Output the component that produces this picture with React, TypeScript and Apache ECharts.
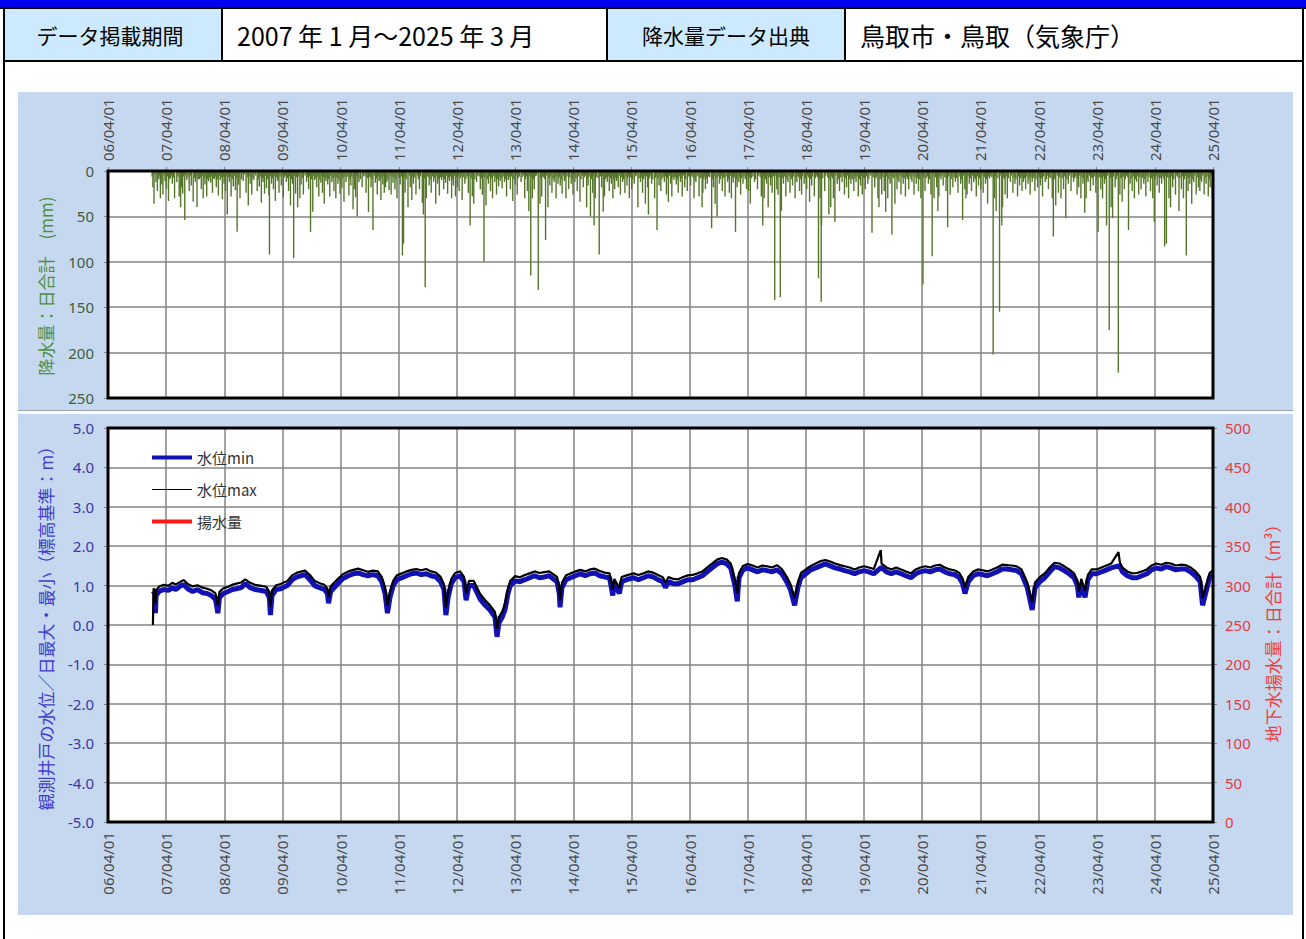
import React, { useEffect, useRef } from 'react';
import * as echarts from 'echarts';

// ---------- tick labels ----------
const xTickLabels = [
  '06/04/01', '07/04/01', '08/04/01', '09/04/01', '10/04/01', '11/04/01', '12/04/01',
  '13/04/01', '14/04/01', '15/04/01', '16/04/01', '17/04/01', '18/04/01', '19/04/01',
  '20/04/01', '21/04/01', '22/04/01', '23/04/01', '24/04/01', '25/04/01',
];

// ---------- daily precipitation (mm) : [month, day, mm] ----------
const rain2007 = [[1,8,18],[1,15,36],[1,27,12],[2,5,22],[2,14,9],[2,24,30],[3,5,15],[3,12,26],[3,25,11],[4,3,20],[4,16,33],[4,28,8],[5,10,14],[5,24,30],[6,7,12],[6,22,28],[7,1,40],[7,6,18],[7,14,25],[7,27,54],[8,9,10],[8,24,22],[9,6,16],[9,18,34],[10,2,12],[10,12,40],[10,27,9],[11,8,20],[11,20,30],[12,1,15],[12,12,28],[12,24,11],
  [1,3,6],[1,21,4],[2,9,7],[2,19,5],[3,1,8],[3,19,5],[4,9,6],[4,22,9],[5,4,5],[5,17,7],[6,14,6],[6,30,9],[7,10,8],[7,20,6],[8,2,4],[8,17,7],[9,1,5],[9,26,8],[10,7,6],[10,20,9],[11,2,7],[11,14,5],[11,26,8],[12,6,6],[12,18,9],[12,29,7]];
const rain2008 = [[1,6,13],[1,17,24],[1,30,9],[2,10,18],[2,23,27],[3,6,10],[3,19,31],[3,30,14],[4,8,22],[4,19,48],[5,2,12],[5,13,28],[5,27,17],[6,9,21],[6,20,67],[6,29,15],[7,8,30],[7,28,11],[8,15,24],[8,29,38],[9,10,14],[9,20,26],[10,3,10],[10,24,22],[11,6,17],[11,19,35],[11,30,12],[12,9,25],[12,21,19],
  [1,2,7],[1,12,5],[1,24,8],[2,4,6],[2,16,9],[3,1,5],[3,13,7],[3,25,6],[4,2,8],[4,13,5],[4,26,7],[5,8,6],[5,20,9],[6,2,5],[6,14,8],[7,2,6],[7,18,9],[8,5,4],[8,22,7],[9,3,6],[9,27,8],[10,14,5],[10,30,9],[11,12,6],[11,25,8],[12,3,7],[12,15,5],[12,28,9]];
const rain2009 = [[1,5,27],[1,9,92],[1,22,14],[2,3,20],[2,15,33],[2,28,11],[3,10,24],[3,24,16],[4,6,29],[4,25,12],[5,9,22],[5,21,38],[6,3,14],[6,10,96],[6,22,25],[7,5,40],[7,19,30],[7,27,15],[8,10,26],[8,30,12],[9,12,20],[9,24,67],[10,8,45],[10,20,10],[11,2,18],[11,15,28],[11,28,13],[12,8,24],[12,19,36],[12,30,11],
  [1,14,6],[1,28,8],[2,9,5],[2,21,7],[3,4,9],[3,16,6],[3,30,5],[4,13,7],[4,19,5],[5,2,8],[5,15,6],[5,28,9],[6,17,5],[6,29,7],[7,12,6],[8,3,8],[8,20,5],[9,4,7],[9,17,6],[10,1,9],[10,14,5],[10,27,8],[11,8,6],[11,21,9],[12,2,5],[12,14,7],[12,24,8]];
const rain2010 = [[1,10,15],[1,23,28],[2,5,12],[2,18,22],[3,2,30],[3,15,14],[3,28,25],[4,9,19],[4,22,34],[5,5,12],[5,23,27],[6,4,16],[6,18,42],[6,28,20],[7,4,29],[7,14,50],[7,25,12],[8,14,18],[9,8,24],[9,23,45],[10,9,18],[10,21,65],[11,5,13],[11,17,26],[11,29,11],[12,10,32],[12,22,15],[12,31,24],
  [1,4,7],[1,16,9],[1,29,5],[2,11,8],[2,24,6],[3,8,7],[3,21,9],[4,3,5],[4,15,8],[4,28,6],[5,11,7],[5,17,5],[5,29,9],[6,10,6],[6,23,8],[7,8,5],[7,19,7],[8,3,9],[8,24,6],[9,2,5],[9,15,8],[9,29,6],[10,3,7],[10,15,9],[10,28,5],[11,11,8],[11,23,6],[12,4,9],[12,16,7],[12,27,5]];
const rain2011 = [[1,8,18],[1,16,12],[1,30,21],[2,12,26],[2,24,13],[3,8,20],[3,21,30],[4,10,15],[4,24,93],[5,1,80],[5,11,24],[5,29,40],[6,12,18],[6,22,32],[7,2,14],[7,18,26],[8,9,20],[8,27,35],[9,3,48],[9,14,128],[9,21,30],[10,9,16],[10,22,24],[11,6,12],[11,19,36],[12,1,14],[12,12,27],[12,26,10],
  [1,3,8],[1,11,6],[1,24,9],[2,5,5],[2,18,7],[3,2,6],[3,14,9],[3,28,5],[4,4,8],[4,17,6],[5,5,7],[5,18,9],[6,5,5],[6,17,8],[6,29,6],[7,10,7],[7,26,5],[8,2,9],[8,16,6],[9,9,8],[9,28,5],[10,3,7],[10,15,9],[10,29,6],[11,12,8],[11,26,5],[12,6,9],[12,19,7],[12,31,6]];
const rain2012 = [[1,8,20],[1,20,13],[2,2,25],[2,14,11],[2,27,30],[3,9,16],[3,22,28],[4,3,18],[4,14,22],[5,3,32],[5,20,14],[6,11,24],[6,22,60],[7,6,28],[7,15,36],[8,2,12],[8,25,20],[9,7,26],[9,17,100],[9,30,38],[10,15,14],[10,28,22],[11,10,30],[11,24,12],[12,5,26],[12,18,17],[12,28,11],
  [1,3,7],[1,14,9],[1,27,5],[2,8,8],[2,20,6],[3,3,9],[3,15,5],[3,28,7],[4,9,6],[4,21,8],[4,28,5],[5,10,7],[5,27,9],[6,4,6],[6,17,5],[6,29,8],[7,10,7],[7,22,9],[8,9,5],[8,18,6],[9,1,8],[9,12,5],[9,23,7],[10,7,9],[10,21,6],[11,3,8],[11,17,5],[11,30,7],[12,11,9],[12,23,6]];
const rain2013 = [[1,9,19],[1,24,12],[2,6,28],[2,17,10],[3,2,20],[3,17,33],[4,2,15],[4,14,26],[5,8,12],[5,31,30],[6,17,22],[6,26,44],[7,8,115],[7,18,30],[7,30,20],[8,24,131],[9,4,36],[9,15,28],[10,9,76],[10,24,40],[11,5,16],[11,18,24],[12,2,12],[12,14,30],[12,26,14],
  [1,3,8],[1,16,6],[1,30,9],[2,11,5],[2,23,7],[3,8,6],[3,24,9],[4,8,5],[4,20,8],[4,27,6],[5,15,7],[5,22,5],[6,4,9],[6,11,6],[6,21,8],[7,3,5],[7,13,7],[7,24,9],[8,6,6],[8,14,5],[9,9,8],[9,21,6],[9,28,7],[10,3,9],[10,16,5],[10,30,8],[11,11,6],[11,25,9],[12,8,7],[12,20,5],[12,30,8]];
const rain2014 = [[1,9,16],[1,21,25],[2,4,11],[2,14,30],[3,3,20],[3,19,14],[3,30,26],[4,11,12],[4,26,22],[5,13,34],[6,3,18],[6,24,40],[7,3,16],[7,18,50],[8,1,24],[8,10,60],[8,17,30],[9,11,92],[9,26,18],[10,6,45],[10,14,28],[11,1,12],[11,13,22],[11,26,14],[12,6,30],[12,17,20],[12,28,11],
  [1,3,6],[1,15,9],[1,28,5],[2,9,8],[2,21,6],[3,9,7],[3,25,9],[4,5,5],[4,18,8],[5,3,6],[5,20,9],[5,28,5],[6,10,7],[6,17,5],[6,29,8],[7,9,6],[7,25,9],[8,5,5],[8,24,7],[9,4,8],[9,18,6],[10,1,5],[10,20,9],[10,27,7],[11,7,6],[11,20,8],[12,1,5],[12,11,9],[12,22,7]];
const rain2015 = [[1,8,18],[1,22,26],[2,5,12],[2,19,24],[3,4,16],[3,19,30],[4,3,20],[4,19,14],[5,12,40],[5,28,12],[6,10,24],[6,28,36],[7,12,18],[7,17,48],[8,6,14],[8,25,30],[9,9,65],[9,22,16],[10,3,22],[10,25,12],[11,7,26],[11,19,34],[12,3,14],[12,11,28],[12,24,10],
  [1,2,8],[1,14,5],[1,29,7],[2,11,9],[2,25,6],[3,9,8],[3,13,5],[3,27,7],[4,9,9],[4,25,6],[5,4,5],[5,19,8],[6,3,7],[6,17,9],[6,22,5],[7,4,6],[7,24,8],[8,1,5],[8,13,9],[8,30,7],[9,3,6],[9,16,8],[9,28,5],[10,10,9],[10,18,7],[11,1,6],[11,13,8],[11,26,5],[12,7,9],[12,17,7],[12,29,6]];
const rain2016 = [[1,8,15],[1,20,24],[2,3,12],[2,14,28],[3,1,18],[3,17,22],[4,7,16],[4,28,30],[5,10,12],[5,30,28],[6,18,40],[6,23,24],[7,9,20],[7,21,14],[8,17,63],[8,28,18],[9,8,36],[9,20,50],[10,5,14],[10,23,22],[11,9,28],[11,25,12],[12,6,24],[12,19,30],[12,30,13],
  [1,2,7],[1,14,9],[1,27,6],[2,8,8],[2,21,5],[3,7,9],[3,24,6],[4,1,8],[4,13,5],[4,21,7],[5,4,9],[5,17,6],[5,24,5],[6,6,8],[6,12,7],[6,29,9],[7,3,5],[7,15,8],[7,28,6],[8,5,7],[8,23,9],[9,2,5],[9,14,8],[9,27,6],[10,11,9],[10,17,5],[10,29,7],[11,3,8],[11,16,6],[12,1,9],[12,12,5],[12,25,7]];
const rain2017 = [[1,14,67],[1,24,18],[2,4,12],[2,15,26],[3,2,14],[3,24,20],[4,6,22],[4,17,36],[5,13,12],[6,1,20],[6,25,28],[7,4,60],[7,13,30],[7,28,14],[8,7,40],[8,22,16],[9,1,24],[9,17,142],[9,30,20],[10,8,26],[10,22,139],[10,29,44],[11,11,14],[11,26,28],[12,9,12],[12,22,24],
  [1,3,8],[1,9,6],[1,19,9],[1,30,5],[2,10,7],[2,21,8],[3,8,6],[3,16,9],[3,29,5],[4,11,7],[4,24,8],[5,3,6],[5,20,9],[6,8,5],[6,18,7],[6,30,8],[7,8,6],[7,20,9],[8,1,5],[8,14,7],[8,29,8],[9,9,6],[9,24,5],[10,3,9],[10,15,7],[11,3,8],[11,18,6],[12,2,9],[12,15,5],[12,28,7]];
const rain2018 = [[1,7,16],[1,23,30],[2,3,12],[2,20,22],[3,5,26],[3,21,14],[4,6,20],[4,24,34],[5,7,16],[5,24,28],[6,19,118],[6,29,30],[7,6,144],[7,8,60],[7,28,22],[8,23,48],[9,4,40],[9,21,30],[9,30,56],[10,15,14],[10,29,22],[11,14,12],[11,29,26],[12,12,18],[12,25,30],
  [1,2,9],[1,13,6],[1,29,8],[2,9,5],[2,15,7],[2,26,9],[3,11,6],[3,28,8],[4,12,5],[4,18,7],[4,30,9],[5,13,6],[5,30,8],[6,6,5],[6,12,7],[6,24,9],[7,3,6],[7,16,8],[8,4,5],[8,15,7],[8,30,9],[9,10,6],[9,16,8],[10,6,5],[10,21,9],[11,5,7],[11,21,6],[12,5,8],[12,18,5],[12,30,9]];
const rain2019 = [[1,9,14],[1,27,22],[2,10,12],[2,24,28],[3,10,16],[3,21,26],[4,9,20],[4,25,14],[5,21,68],[6,7,18],[6,27,30],[7,4,40],[7,21,26],[8,6,22],[8,15,45],[8,28,30],[9,12,14],[9,23,70],[10,12,36],[10,25,20],[11,6,12],[11,19,26],[12,3,14],[12,17,28],
  [1,3,7],[1,17,9],[1,31,5],[2,4,8],[2,16,6],[3,4,9],[3,15,5],[3,28,7],[4,3,8],[4,16,6],[5,1,9],[5,11,5],[5,28,7],[6,14,8],[6,20,6],[7,11,9],[7,16,5],[7,28,7],[8,11,8],[8,21,6],[9,4,9],[9,17,5],[9,30,7],[10,5,8],[10,19,6],[10,30,9],[11,12,5],[11,26,7],[12,9,8],[12,23,6],[12,29,9]];
const rain2020 = [[1,7,20],[1,27,12],[2,9,26],[2,23,14],[3,8,22],[3,23,30],[4,5,125],[4,18,22],[5,9,14],[5,25,26],[6,2,94],[6,14,30],[6,30,18],[7,8,44],[7,14,28],[8,10,16],[8,28,22],[9,7,62],[9,23,26],[10,10,18],[10,26,12],[11,11,24],[11,28,14],[12,10,54],[12,24,20],[12,31,30],
  [1,2,8],[1,14,6],[1,21,9],[2,3,5],[2,15,7],[2,28,8],[3,2,6],[3,16,9],[3,29,5],[4,11,7],[4,25,8],[5,3,6],[5,16,9],[6,7,5],[6,22,7],[7,2,8],[7,20,6],[7,27,9],[8,3,5],[8,20,7],[9,1,8],[9,14,6],[9,29,9],[10,4,5],[10,18,7],[11,3,8],[11,18,6],[12,3,9],[12,17,5]];
const rain2021 = [[1,7,26],[1,21,14],[2,4,22],[2,18,12],[3,6,28],[3,20,16],[4,3,20],[4,18,24],[5,3,14],[5,16,36],[6,20,202],[6,29,30],[7,9,44],[7,30,155],[8,13,60],[8,18,40],[9,3,26],[9,17,30],[10,6,12],[10,22,24],[11,4,14],[11,20,28],[12,3,16],[12,18,22],[12,27,12],
  [1,2,9],[1,13,6],[1,28,8],[2,10,5],[2,24,7],[3,1,9],[3,13,6],[3,27,8],[4,10,5],[4,25,7],[5,9,9],[5,22,6],[5,29,8],[6,5,5],[6,12,7],[6,25,9],[7,3,6],[7,20,8],[8,3,5],[8,24,7],[8,30,9],[9,10,6],[9,24,8],[10,12,5],[10,29,7],[11,10,9],[11,27,6],[12,9,8],[12,13,5],[12,23,7]];
const rain2022 = [[1,10,20],[1,25,14],[2,7,26],[2,20,12],[3,9,22],[3,26,18],[4,13,16],[4,26,28],[5,13,12],[6,2,20],[6,26,30],[7,3,72],[7,18,38],[8,4,24],[8,20,30],[9,5,20],[9,19,52],[10,5,14],[10,22,22],[11,7,12],[11,29,26],[12,9,18],[12,23,30],
  [1,4,8],[1,16,6],[1,30,9],[2,2,5],[2,13,7],[2,26,8],[3,3,6],[3,16,9],[3,31,5],[4,6,7],[4,19,8],[5,3,6],[5,20,9],[5,27,5],[6,9,7],[6,18,8],[7,8,6],[7,12,9],[7,27,5],[8,11,7],[8,27,8],[9,12,6],[9,26,9],[10,11,5],[10,28,7],[11,14,8],[11,21,6],[12,2,9],[12,16,5],[12,29,7]];
const rain2023 = [[1,5,14],[1,16,46],[1,25,30],[2,6,12],[2,21,22],[3,10,16],[3,27,24],[4,10,67],[4,27,20],[5,8,30],[5,20,14],[6,2,60],[6,19,175],[7,1,40],[7,10,52],[7,26,18],[8,15,222],[8,25,26],[9,8,34],[9,22,20],[10,18,65],[10,28,14],[11,10,22],[11,24,30],[12,8,12],[12,21,26],
  [1,10,8],[1,29,6],[2,1,9],[2,14,5],[2,27,7],[3,4,8],[3,17,6],[3,31,9],[4,4,5],[4,18,7],[5,2,8],[5,14,6],[5,27,9],[6,9,5],[6,26,7],[7,5,8],[7,17,6],[8,3,9],[8,9,5],[8,31,7],[9,2,8],[9,15,6],[9,28,9],[10,6,5],[10,12,7],[11,3,8],[11,17,6],[11,30,9],[12,14,5],[12,28,7]];
const rain2024 = [[1,5,20],[1,22,14],[2,4,28],[2,17,12],[3,4,22],[3,18,30],[3,28,56],[4,15,16],[4,28,24],[5,13,14],[6,1,83],[6,12,80],[6,28,30],[7,8,40],[7,21,18],[8,8,26],[8,30,44],[9,14,20],[9,27,30],[10,15,93],[10,26,22],[11,6,14],[11,18,36],[12,1,12],[12,16,26],[12,30,18],
  [1,11,8],[1,17,6],[1,29,9],[2,10,5],[2,23,7],[3,10,8],[3,23,6],[4,3,9],[4,9,5],[4,21,7],[5,4,8],[5,20,6],[5,27,9],[6,7,5],[6,20,7],[7,2,8],[7,14,6],[7,28,9],[8,14,5],[8,22,7],[9,4,8],[9,20,6],[10,3,9],[10,8,5],[10,21,7],[11,1,8],[11,12,6],[11,25,9],[12,7,5],[12,22,7]];
const rain2025 = [[1,8,22],[1,19,12],[2,4,26],[2,16,14],[3,2,28],[3,14,18],[3,27,30],
  [1,2,7],[1,14,9],[1,26,5],[2,9,8],[2,22,6],[3,8,9],[3,20,5]];

// ---------- observation well water level (m) ----------
const levelDates = [
  '2007-01-08','2007-01-12','2007-01-20','2007-01-24','2007-01-28','2007-02-15','2007-03-15','2007-04-15','2007-05-10','2007-06-01',
  '2007-07-01','2007-07-20','2007-08-15','2007-09-15','2007-10-15','2007-11-15','2007-12-15','2008-01-10','2008-02-05','2008-02-20',
  '2008-03-01','2008-03-25','2008-04-25','2008-05-20','2008-06-15','2008-07-15','2008-08-10','2008-09-10','2008-10-10','2008-11-10',
  '2008-12-20','2009-01-08','2009-01-15','2009-01-25','2009-02-20','2009-03-20','2009-05-01','2009-06-01','2009-07-01','2009-08-20',
  '2009-09-20','2009-10-20','2009-11-20','2009-12-20','2010-01-08','2010-01-15','2010-01-28','2010-02-20','2010-03-15','2010-04-15',
  '2010-05-20','2010-06-20','2010-07-20','2010-08-20','2010-09-20','2010-10-20','2010-11-20','2010-12-15','2011-01-05','2011-01-20',
  '2011-02-05','2011-02-25','2011-03-20','2011-04-20','2011-05-20','2011-06-20','2011-07-20','2011-08-20','2011-09-20','2011-10-20',
  '2011-11-20','2011-12-20','2012-01-10','2012-01-22','2012-02-05','2012-02-25','2012-03-20','2012-04-20','2012-05-15','2012-05-28',
  '2012-06-15','2012-07-15','2012-08-01','2012-08-25','2012-09-25','2012-10-25','2012-11-25','2012-12-08','2012-12-20','2013-01-10',
  '2013-01-28','2013-02-15','2013-03-01','2013-04-01','2013-05-01','2013-06-01','2013-07-01','2013-08-01','2013-09-01','2013-10-01',
  '2013-11-01','2013-12-20','2014-01-03','2014-01-08','2014-01-20','2014-02-15','2014-03-15','2014-04-15','2014-05-15','2014-06-15',
  '2014-07-15','2014-08-15','2014-09-15','2014-10-15','2014-11-15','2014-12-05','2014-12-15','2015-01-15','2015-01-30','2015-03-01',
  '2015-04-15','2015-05-15','2015-06-15','2015-07-15','2015-08-15','2015-09-15','2015-10-15','2015-11-01','2015-11-20','2015-12-20',
  '2016-01-20','2016-02-20','2016-03-20','2016-04-20','2016-05-20','2016-06-20','2016-07-20','2016-08-20','2016-09-20','2016-10-20',
  '2016-11-20','2016-12-15','2017-01-10','2017-01-25','2017-02-05','2017-03-01','2017-04-01','2017-05-01','2017-06-01','2017-07-01',
  '2017-08-01','2017-09-01','2017-10-01','2017-11-01','2017-12-01','2017-12-25','2018-01-20','2018-02-10','2018-03-01','2018-04-01',
  '2018-05-01','2018-06-01','2018-07-01','2018-08-01','2018-09-01','2018-10-01','2018-11-01','2018-12-01','2019-01-01','2019-02-01',
  '2019-03-01','2019-04-01','2019-05-01','2019-06-01','2019-07-15','2019-07-20','2019-08-20','2019-09-20','2019-10-20','2019-11-20',
  '2019-12-20','2020-01-20','2020-02-20','2020-03-20','2020-04-20','2020-05-20','2020-06-20','2020-07-20','2020-08-20','2020-09-20',
  '2020-10-20','2020-11-20','2020-12-10','2020-12-25','2021-01-15','2021-02-15','2021-03-15','2021-04-15','2021-05-15','2021-06-15',
  '2021-07-15','2021-08-15','2021-09-15','2021-10-15','2021-11-15','2021-12-15','2022-01-20','2022-02-20','2022-03-10','2022-04-10',
  '2022-05-10','2022-06-10','2022-07-10','2022-08-10','2022-09-10','2022-10-10','2022-11-10','2022-12-01','2022-12-10','2022-12-25',
  '2023-01-18','2023-02-05','2023-03-01','2023-04-01','2023-05-01','2023-06-01','2023-07-01','2023-08-16','2023-08-25','2023-09-10',
  '2023-10-10','2023-11-10','2023-12-10','2024-01-10','2024-02-10','2024-03-10','2024-04-10','2024-05-10','2024-06-10','2024-07-10',
  '2024-08-10','2024-09-10','2024-10-10','2024-11-10','2024-12-10','2025-01-10','2025-01-25','2025-02-10','2025-03-10','2025-03-31',
];
const levelMin = [
  0.78,0.80,0.78,0.30,0.75,0.85,0.90,0.88,0.95,0.90,
  1.00,1.02,0.92,0.85,0.90,0.82,0.80,0.75,0.65,0.30,
  0.70,0.80,0.85,0.90,0.92,0.95,1.05,0.95,0.90,0.88,
  0.85,0.70,0.25,0.75,0.90,0.92,1.00,1.15,1.22,1.28,
  1.15,1.00,0.95,0.90,0.80,0.55,0.85,0.95,1.05,1.18,
  1.25,1.30,1.32,1.28,1.25,1.28,1.25,1.10,0.80,0.30,
  0.70,1.00,1.15,1.20,1.25,1.30,1.32,1.28,1.30,1.25,
  1.22,1.10,0.90,0.25,0.70,1.05,1.20,1.25,1.10,0.63,
  1.00,1.00,0.85,0.65,0.50,0.38,0.20,-0.30,0.05,0.20,
  0.40,0.80,1.00,1.12,1.10,1.15,1.20,1.25,1.20,1.22,
  1.25,1.10,0.80,0.45,0.95,1.15,1.20,1.25,1.30,1.25,
  1.30,1.32,1.25,1.22,1.20,0.75,1.05,0.80,1.10,1.15,
  1.20,1.15,1.20,1.25,1.22,1.15,1.10,0.95,1.10,1.05,
  1.05,1.10,1.15,1.15,1.20,1.25,1.35,1.45,1.55,1.60,
  1.55,1.45,1.00,0.60,1.20,1.40,1.45,1.40,1.35,1.40,
  1.38,1.35,1.40,1.30,1.10,0.90,0.50,0.95,1.20,1.30,
  1.40,1.45,1.50,1.55,1.50,1.45,1.42,1.38,1.35,1.30,
  1.35,1.38,1.35,1.30,1.45,1.45,1.35,1.30,1.35,1.30,
  1.25,1.20,1.30,1.35,1.38,1.35,1.40,1.42,1.35,1.30,
  1.28,1.20,1.05,0.80,1.10,1.25,1.30,1.28,1.25,1.30,
  1.35,1.42,1.42,1.40,1.38,1.30,0.95,0.38,0.95,1.10,
  1.20,1.35,1.48,1.45,1.38,1.30,1.20,1.00,0.70,1.05,
  0.70,1.15,1.30,1.30,1.35,1.40,1.45,1.50,1.48,1.35,
  1.25,1.20,1.20,1.25,1.30,1.40,1.45,1.42,1.48,1.45,
  1.40,1.42,1.42,1.35,1.25,1.10,0.50,0.75,1.20,1.27,
];
const levelMax = [
  0.00,0.92,0.90,0.55,0.88,0.97,1.02,1.00,1.07,1.03,
  1.10,1.14,1.04,0.98,1.01,0.95,0.92,0.88,0.80,0.50,
  0.84,0.93,0.97,1.02,1.05,1.08,1.16,1.07,1.02,1.00,
  0.97,0.84,0.45,0.88,1.01,1.04,1.12,1.26,1.33,1.38,
  1.27,1.12,1.06,1.02,0.92,0.70,0.98,1.08,1.17,1.29,
  1.36,1.40,1.43,1.39,1.35,1.38,1.36,1.22,0.95,0.50,
  0.85,1.12,1.26,1.31,1.36,1.40,1.42,1.39,1.42,1.36,
  1.33,1.22,1.03,0.45,0.85,1.17,1.32,1.36,1.22,0.80,
  1.12,1.12,0.98,0.78,0.63,0.50,0.33,-0.10,0.20,0.34,
  0.55,0.93,1.12,1.24,1.21,1.27,1.31,1.36,1.32,1.34,
  1.36,1.22,0.95,0.62,1.08,1.26,1.31,1.36,1.40,1.36,
  1.41,1.43,1.37,1.33,1.31,0.90,1.17,0.94,1.22,1.26,
  1.31,1.27,1.31,1.36,1.33,1.27,1.21,1.08,1.22,1.17,
  1.16,1.22,1.26,1.27,1.31,1.36,1.46,1.56,1.66,1.70,
  1.66,1.56,1.15,0.80,1.32,1.50,1.55,1.51,1.46,1.51,
  1.49,1.46,1.52,1.42,1.23,1.04,0.68,1.08,1.32,1.41,
  1.50,1.56,1.62,1.65,1.61,1.56,1.52,1.49,1.46,1.41,
  1.46,1.49,1.46,1.42,1.90,1.56,1.46,1.41,1.46,1.41,
  1.36,1.31,1.41,1.46,1.49,1.46,1.51,1.53,1.46,1.41,
  1.39,1.32,1.18,0.95,1.22,1.36,1.41,1.39,1.36,1.41,
  1.46,1.53,1.52,1.51,1.49,1.41,1.08,0.58,1.08,1.22,
  1.31,1.46,1.58,1.56,1.49,1.41,1.31,1.13,0.85,1.17,
  0.86,1.27,1.41,1.41,1.46,1.51,1.56,1.85,1.58,1.46,
  1.36,1.31,1.32,1.36,1.41,1.51,1.56,1.53,1.58,1.56,
  1.51,1.53,1.52,1.46,1.37,1.22,0.68,0.90,1.32,1.38,
];
// groundwater pumping (m3/day): no data recorded in this period
const pumpDates: string[] = [];
const pumpValues: number[] = [];

// ---------- helpers ----------
const BASE = Date.UTC(2006, 3, 1);
const YEAR_MS = 365.2425 * 86400000;
const toX = (y: number, m: number, d: number) => (Date.UTC(y, m - 1, d) - BASE) / YEAR_MS;
const parseX = (s: string) => {
  const [y, m, d] = s.split('-').map(Number);
  return toX(y, m, d);
};

const rainYears: [number, number[][]][] = [
  [2007, rain2007], [2008, rain2008], [2009, rain2009], [2010, rain2010], [2011, rain2011],
  [2012, rain2012], [2013, rain2013], [2014, rain2014], [2015, rain2015], [2016, rain2016],
  [2017, rain2017], [2018, rain2018], [2019, rain2019], [2020, rain2020], [2021, rain2021],
  [2022, rain2022], [2023, rain2023], [2024, rain2024], [2025, rain2025],
];

const CJK = "'Noto Sans CJK JP', 'Noto Sans', sans-serif";
const NUM = "'Noto Sans', 'DejaVu Sans', sans-serif";

export default function App() {
  const ref = useRef<HTMLDivElement>(null);

  useEffect(() => {
    if (!ref.current) return;
    const chart = echarts.init(ref.current, undefined, { renderer: 'svg' });

    const rainData: number[][] = [];
    rainYears.forEach(([yr, arr]) => {
      arr.forEach(([m, d, v]) => rainData.push([toX(yr, m, d), v]));
    });
    const minData = levelDates.map((d, i) => [parseX(d), levelMin[i]]);
    const maxData = levelDates.map((d, i) => [parseX(d), levelMax[i]]);
    const pumpData = pumpDates.map((d, i) => [parseX(d), pumpValues[i]]);

    const rect = (x: number, y: number, w: number, h: number, fill: string, z = -100) => ({
      type: 'rect', z, silent: true, shape: { x, y, width: w, height: h }, style: { fill },
    });
    const frame = (x: number, y: number, w: number, h: number) => ({
      type: 'rect', z: 50, silent: true, shape: { x, y, width: w, height: h },
      style: { fill: 'none', stroke: '#000000', lineWidth: 3 },
    });
    const text = (x: number, y: number, t: string, size: number, fill: string, align = 'center', rot = 0, font = CJK) => ({
      type: 'text', z: 100, x, y, rotation: rot, silent: true,
      style: { text: t, fontSize: size, fontFamily: font, fill, align, verticalAlign: 'middle' },
    });

    const graphic = [
      rect(0, 0, 1306, 7, '#0000f0'),
      rect(0, 7, 1306, 2, '#000000'),
      rect(4, 9, 218, 52, '#cde9fd'),
      rect(607, 9, 238, 52, '#cde9fd'),
      rect(221, 9, 2, 52, '#000000'),
      rect(606, 9, 2, 52, '#000000'),
      rect(844, 9, 2, 52, '#000000'),
      rect(3, 60, 1301, 2, '#000000'),
      rect(3, 7, 2, 932, '#000000'),
      rect(1302, 7, 2, 932, '#000000'),
      rect(18, 92, 1275, 823, '#c6d8ef'),
      rect(18, 410, 1275, 1, '#9aa4b0'),
      rect(18, 411, 1275, 3, '#ffffff'),
      frame(108, 171, 1105, 227),
      frame(108, 428, 1105, 394),
      text(110, 35, 'データ掲載期間', 21, '#000000'),
      text(237, 35, '2007 年 1 月～2025 年 3 月', 25, '#000000', 'left'),
      text(726, 35, '降水量データ出典', 21, '#000000'),
      text(860, 35, '鳥取市・鳥取（気象庁）', 25, '#000000', 'left'),
      text(45, 286, '降水量：日合計　(mm)', 17, '#4f8f3f', 'center', Math.PI / 2),
      text(45, 624, '観測井戸の水位／日最大・最小（標高基準：m）', 17, '#3f3fcf', 'center', Math.PI / 2),
      text(1272, 629, '地下水揚水量：日合計（m³）', 17, '#f03c3c', 'center', Math.PI / 2),
    ];

    const gridLine = { show: true, lineStyle: { color: '#858585', width: 1.5 } };
    const tick = { show: true, length: 4, lineStyle: { color: '#858585' } };
    const xLabel = {
      rotate: 90, margin: 10, fontSize: 15, color: '#4a4a4a', fontFamily: NUM,
      showMinLabel: true, showMaxLabel: true,
      formatter: (v: number) => xTickLabels[Math.round(v)] ?? '',
    };

    const iconThick = 'path://M0,0M40,14M0,5L40,5L40,9L0,9Z';
    const iconThin = 'path://M0,0M40,14M0,6.5L40,6.5L40,7.5L0,7.5Z';

    chart.setOption({
      animation: false,
      backgroundColor: '#ffffff',
      textStyle: { fontFamily: NUM },
      graphic,
      legend: {
        left: 152, top: 450, padding: 0, orient: 'vertical', itemWidth: 40, itemHeight: 14, itemGap: 17,
        textStyle: { fontSize: 15, color: '#333333', fontFamily: CJK },
        data: [
          { name: '水位min', icon: iconThick, itemStyle: { color: '#1212b4' } },
          { name: '水位max', icon: iconThin, itemStyle: { color: '#000000' } },
          { name: '揚水量', icon: iconThick, itemStyle: { color: '#ff1a1a' } },
        ],
      },
      grid: [
        { left: 108, right: 93, top: 171, height: 227, show: true, backgroundColor: '#ffffff', borderWidth: 0 },
        { left: 108, right: 93, top: 428, height: 394, show: true, backgroundColor: '#ffffff', borderWidth: 0 },
      ],
      xAxis: [
        {
          gridIndex: 0, type: 'value', min: 0, max: 19, interval: 1, position: 'top',
          axisLine: { show: false }, axisTick: tick, splitLine: gridLine, axisLabel: xLabel,
        },
        {
          gridIndex: 1, type: 'value', min: 0, max: 19, interval: 1, position: 'bottom',
          axisLine: { show: false }, axisTick: tick, splitLine: gridLine, axisLabel: xLabel,
        },
      ],
      yAxis: [
        {
          gridIndex: 0, type: 'value', min: 0, max: 250, interval: 50, inverse: true,
          axisLine: { show: false }, axisTick: tick, splitLine: gridLine,
          axisLabel: { margin: 14, fontSize: 15, color: '#3d5e3d', fontFamily: NUM, showMinLabel: true, showMaxLabel: true },
        },
        {
          gridIndex: 1, type: 'value', min: -5, max: 5, interval: 1,
          axisLine: { show: false }, axisTick: tick, splitLine: gridLine,
          axisLabel: {
            margin: 14, fontSize: 15, color: '#3838a4', fontFamily: NUM, showMinLabel: true, showMaxLabel: true,
            formatter: (v: number) => v.toFixed(1),
          },
        },
        {
          gridIndex: 1, type: 'value', min: 0, max: 500, interval: 50, position: 'right',
          axisLine: { show: false }, axisTick: tick, splitLine: { show: false },
          axisLabel: { margin: 12, fontSize: 15, color: '#e8383d', fontFamily: NUM, showMinLabel: true, showMaxLabel: true },
        },
      ],
      series: [
        {
          name: '降水量', type: 'bar', xAxisIndex: 0, yAxisIndex: 0, data: rainData,
          barWidth: 1.4, itemStyle: { color: '#55762a' }, silent: true,
        },
        {
          name: '水位min', type: 'line', xAxisIndex: 1, yAxisIndex: 1, data: minData,
          symbol: 'none', itemStyle: { color: '#1212b4' }, lineStyle: { color: '#1212b4', width: 5 }, z: 3,
        },
        {
          name: '水位max', type: 'line', xAxisIndex: 1, yAxisIndex: 1, data: maxData,
          symbol: 'none', itemStyle: { color: '#000000' }, lineStyle: { color: '#000000', width: 2.2 }, z: 4,
        },
        {
          name: '揚水量', type: 'line', xAxisIndex: 1, yAxisIndex: 2, data: pumpData,
          symbol: 'none', itemStyle: { color: '#ff1a1a' }, lineStyle: { color: '#ff1a1a', width: 4 }, z: 5,
        },
      ],
    });

    return () => chart.dispose();
  }, []);

  return (
    <div
      ref={ref}
      style={{ position: 'fixed', left: 0, top: 0, width: 1306, height: 939, background: '#ffffff' }}
    />
  );
}
